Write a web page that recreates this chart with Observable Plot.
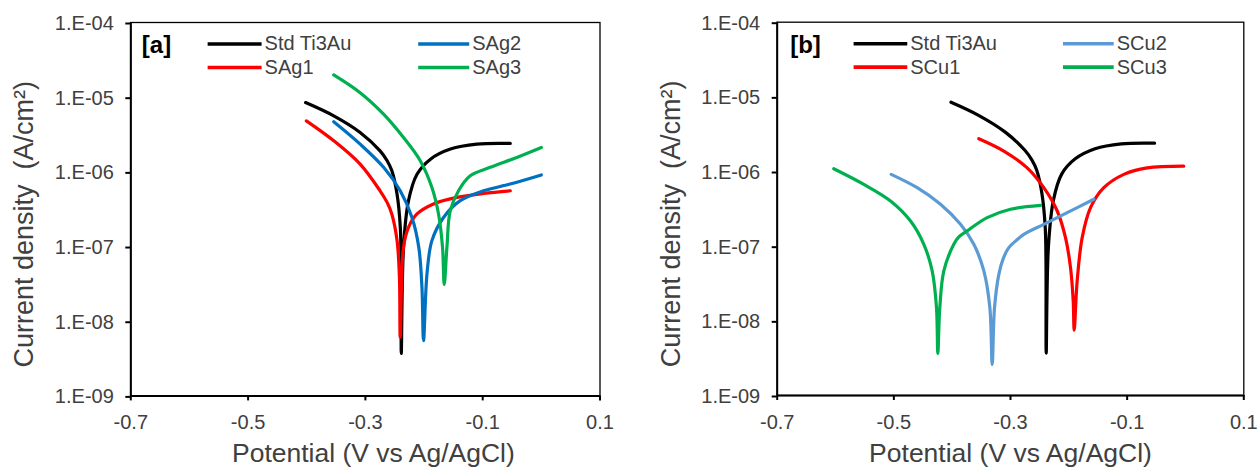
<!DOCTYPE html>
<html>
<head>
<meta charset="utf-8">
<script src="https://cdn.jsdelivr.net/npm/d3@7"></script>
<script src="https://cdn.jsdelivr.net/npm/@observablehq/plot@0.6"></script>
<style>
  body { margin: 0; background: #fff; }
  #wrap { display: flex; width: 1257px; height: 467px; }
  #wrap svg { display: block; }
</style>
</head>
<body>
<div id="wrap"></div>
<script>
// ---------- tick values ----------
const xTicks = [-0.7, -0.5, -0.3, -0.1, 0.1];
const yTicks = [1e-9, 1e-8, 1e-7, 1e-6, 1e-5, 1e-4];

// ---------- series names & colours ----------
const namesA = ["Std Ti3Au", "SAg1", "SAg2", "SAg3"];
const namesB = ["Std Ti3Au", "SCu1", "SCu2", "SCu3"];
const colorsA = ["#000000", "#ff0000", "#0070c0", "#00b050"];
const colorsB = ["#000000", "#ff0000", "#5b9bd5", "#00b050"];

// ---------- data: potential (V vs Ag/AgCl) and current density (A/cm2) ----------
const stdE = [-0.402, -0.354, -0.309, -0.275, -0.2632, -0.255, -0.246, -0.2405, -0.2392, -0.2388, -0.235, -0.2265, -0.212, -0.189, -0.155, -0.110, -0.053];
const stdI = [8.47e-6, 5.62e-6, 3.37e-6, 1.91e-6, 1.42e-6, 1.04e-6, 5.0e-7, 1.81e-7, 6.5e-8, 3.7e-9, 9.8e-8, 4.11e-7, 9.3e-7, 1.48e-6, 2.02e-6, 2.35e-6, 2.4e-6];

const sag1E = [-0.4007, -0.354, -0.309, -0.275, -0.2632, -0.255, -0.246, -0.242, -0.2406, -0.235, -0.2265, -0.212, -0.184, -0.144, -0.0986, -0.053];
const sag1I = [4.82e-6, 2.61e-6, 1.27e-6, 5.58e-7, 3.93e-7, 2.73e-7, 1.2e-7, 3.9e-8, 6.1e-9, 9.8e-8, 1.81e-7, 2.73e-7, 3.72e-7, 4.55e-7, 5.14e-7, 5.58e-7];

const sag2E = [-0.354, -0.309, -0.269, -0.2406, -0.2206, -0.209, -0.2036, -0.2009, -0.195, -0.1866, -0.1668, -0.1383, -0.0986, -0.053, 0.0];
const sag2I = [4.68e-6, 2.35e-6, 1.15e-6, 5.58e-7, 2.45e-7, 9.8e-8, 2.85e-8, 5.5e-9, 4.3e-8, 1.2e-7, 2.45e-7, 4.11e-7, 5.58e-7, 6.87e-7, 9.1e-7];

const sag3E = [-0.354, -0.309, -0.269, -0.235, -0.2065, -0.1866, -0.1753, -0.1685, -0.1656, -0.161, -0.1554, -0.1412, -0.1213, -0.0872, -0.0418, 0.0];
const sag3I = [1.99e-5, 1.15e-5, 5.93e-6, 2.88e-6, 1.41e-6, 6.18e-7, 2.73e-7, 9.8e-8, 3.1e-8, 9.8e-8, 3.0e-7, 5.58e-7, 8.87e-7, 1.15e-6, 1.56e-6, 2.12e-6];

const scu1E = [-0.3543, -0.3115, -0.2714, -0.2429, -0.2199, -0.2057, -0.1971, -0.1925, -0.1908, -0.1857, -0.1771, -0.1628, -0.14, -0.1057, -0.0656, -0.003];
const scu1I = [2.75e-6, 1.88e-6, 1.12e-6, 6.07e-7, 2.96e-7, 1.3e-7, 5.16e-8, 1.85e-8, 7.5e-9, 3.43e-8, 1.3e-7, 3.28e-7, 6.07e-7, 9.16e-7, 1.12e-6, 1.18e-6];

const scu2E = [-0.5046, -0.46, -0.42, -0.3857, -0.3629, -0.3457, -0.3354, -0.3314, -0.3274, -0.32, -0.3125, -0.3029, -0.2914, -0.2772, -0.2429, -0.2028, -0.1572];
const scu2I = [9.16e-7, 6.07e-7, 3.64e-7, 1.96e-7, 1.06e-7, 4.66e-8, 1.5e-8, 2.6e-9, 1.5e-8, 4.2e-8, 6.8e-8, 9.55e-8, 1.17e-7, 1.44e-7, 1.96e-7, 2.81e-7, 4.25e-7];

const scu3E = [-0.603, -0.5515, -0.5057, -0.4714, -0.4486, -0.4343, -0.4269, -0.4246, -0.4212, -0.4143, -0.3972, -0.3886, -0.3743, -0.34, -0.3, -0.2486];
const scu3I = [1.09e-6, 6.73e-7, 4.03e-7, 2.17e-7, 1.06e-7, 4.66e-8, 1.5e-8, 3.65e-9, 1.5e-8, 4.66e-8, 1.06e-7, 1.33e-7, 1.6e-7, 2.41e-7, 3.12e-7, 3.52e-7];

// ---------- text ----------
const xTitle = "Potential (V vs Ag/AgCl)";
const yTitle = "Current density\u00a0 (A/cm\u00b2)";

// ---------- helpers ----------
function table(name, E, I) { return E.map((e, k) => ({series: name, E: e, I: I[k]})); }
const fmtX = d => d.toFixed(1);
const fmtY = d => "1.E-" + String(Math.round(-Math.log10(d))).padStart(2, "0");

// legend layout (in data space of the axes)
const legendCols = [[-0.569, -0.477], [-0.21, -0.123]];
const legendRows = [5.15e-5, 2.5e-5];

function legendItems(names) {
  return names.map((n, k) => {
    const col = legendCols[Math.floor(k / 2)];
    return {series: n, x1: col[0], x2: col[1], y: legendRows[k % 2]};
  });
}

function panel({names, colors, data, tag, width, marginLeft, marginRight, marginTop, marginBottom, tagDx, titleDx}) {
  const legend = legendItems(names);
  return Plot.plot({
    width, height: 467,
    marginLeft, marginRight, marginTop, marginBottom,
    style: {fontFamily: "'Liberation Sans', Arial, sans-serif", fontSize: "20px", background: "white", color: "#404040"},
    x: {domain: [-0.7, 0.1]},
    y: {type: "log", domain: [1e-9, 1e-4]},
    color: {domain: names, range: colors},
    marks: [
      Plot.frame({stroke: "black", strokeWidth: 1.3}),
      Plot.line(data, {x: "E", y: "I", z: "series", stroke: "series", strokeWidth: 3.2, curve: "catmull-rom"}),
      Plot.ruleX([-0.7], {stroke: "black", strokeWidth: 2}),
      Plot.ruleY([1e-9], {stroke: "black", strokeWidth: 2}),
      Plot.axisX({ticks: xTicks, tickFormat: fmtX, tickSize: 5, tickPadding: 14, stroke: "black", strokeWidth: 2, fill: "#404040", fontSize: 20, label: null}),
      Plot.axisY({ticks: yTicks, tickFormat: fmtY, tickSize: 5, tickPadding: 12, stroke: "black", strokeWidth: 2, fill: "#404040", fontSize: 20, dy: 1, label: null}),
      Plot.link(legend, {x1: "x1", x2: "x2", y1: "y", y2: "y", stroke: "series", strokeWidth: 3.6}),
      Plot.text(legend, {x: "x2", y: "y", text: "series", dx: 3, textAnchor: "start", fontSize: 20, fill: "#404040"}),
      Plot.text([tag], {frameAnchor: "top-left", dx: tagDx, dy: 23, textAnchor: "start", lineAnchor: "middle", fontSize: 24, fontWeight: "bold", fill: "black"}),
      Plot.text([xTitle], {frameAnchor: "bottom", dx: titleDx, dy: 58, textAnchor: "middle", lineAnchor: "middle", fontSize: 26.5, fill: "#404040"}),
      Plot.text([yTitle], {frameAnchor: "left", rotate: -90, dx: -106, dy: 15, textAnchor: "middle", lineAnchor: "middle", fontSize: 27, fill: "#404040"})
    ]
  });
}

const dataA = [
  ...table(namesA[0], stdE, stdI),
  ...table(namesA[1], sag1E, sag1I),
  ...table(namesA[2], sag2E, sag2I),
  ...table(namesA[3], sag3E, sag3I)
];
const dataB = [
  ...table(namesB[0], stdE, stdI),
  ...table(namesB[1], scu1E, scu1I),
  ...table(namesB[2], scu2E, scu2I),
  ...table(namesB[3], scu3E, scu3I)
];

const wrap = document.getElementById("wrap");
wrap.appendChild(panel({names: namesA, colors: colorsA, data: dataA, tag: "[a]", width: 629,
  marginLeft: 130.3, marginRight: 29.5, marginTop: 22, marginBottom: 71.6, tagDx: 11, titleDx: 8}));
wrap.appendChild(panel({names: namesB, colors: colorsB, data: dataB, tag: "[b]", width: 628,
  marginLeft: 147.7, marginRight: 13.7, marginTop: 21.7, marginBottom: 72, tagDx: 13, titleDx: 0}));
</script>
</body>
</html>
